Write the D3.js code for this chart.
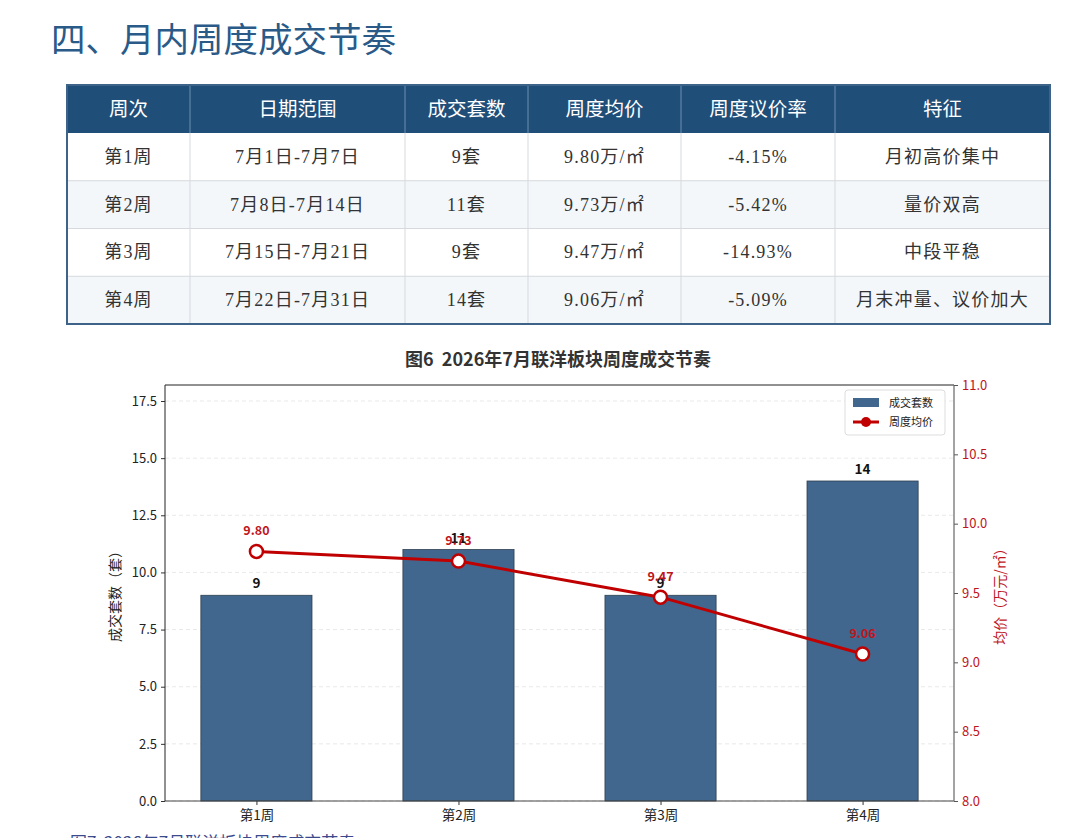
<!DOCTYPE html>
<html>
<head>
<meta charset="utf-8">
<script src="https://cdn.jsdelivr.net/npm/d3@7"></script>
<style>
  body { margin: 0; background: #fff; }
  svg { display: block; }
  text { white-space: pre; }
</style>
</head>
<body>
<svg id="page" width="1080" height="838"></svg>
<script>
// ---- data ----
var weeks = ["第1周", "第2周", "第3周", "第4周"];
var dateRanges = ["7月1日-7月7日", "7月8日-7月14日", "7月15日-7月21日", "7月22日-7月31日"];
var deals = [9, 11, 9, 14];
var avgPrice = [9.80, 9.73, 9.47, 9.06];
var discountRate = ["-4.15%", "-5.42%", "-14.93%", "-5.09%"];
var features = ["月初高价集中", "量价双高", "中段平稳", "月末冲量、议价加大"];
var tableHeaders = ["周次", "日期范围", "成交套数", "周度均价", "周度议价率", "特征"];
var leftTicks = [0, 2.5, 5, 7.5, 10, 12.5, 15, 17.5];
var rightTicks = [8.0, 8.5, 9.0, 9.5, 10.0, 10.5, 11.0];

var sans = "'Noto Sans CJK SC', 'Noto Sans', sans-serif";
var serif = "'Liberation Serif', 'Noto Sans CJK SC', serif";

var svg = d3.select("#page");

// ---- section title ----
svg.append("text")
    .attr("x", 51)
    .attr("y", 52)
    .attr("font-family", sans)
    .attr("font-size", 34.5)
    .attr("fill", "#2a5a88")
    .text("四、月内周度成交节奏");

// ---- table ----
var colEdges = [67, 190, 405, 528, 681, 835, 1050];
var tableTop = 85, headH = 48, rowH = 47.75;

var rows = weeks.map(function(w, i) {
    return [w, dateRanges[i], deals[i] + "套", avgPrice[i].toFixed(2) + "万/㎡", discountRate[i], features[i]];
});

var table = svg.append("g");

table.append("rect")
    .attr("x", colEdges[0]).attr("y", tableTop)
    .attr("width", colEdges[6] - colEdges[0]).attr("height", headH)
    .attr("fill", "#1f4e79");

rows.forEach(function(r, i) {
    table.append("rect")
        .attr("x", colEdges[0]).attr("y", tableTop + headH + i * rowH)
        .attr("width", colEdges[6] - colEdges[0]).attr("height", rowH)
        .attr("fill", i % 2 === 0 ? "#ffffff" : "#f4f7fa");
});

// grid lines in the body
for (var i = 1; i < rows.length; i++) {
    table.append("line")
        .attr("x1", colEdges[0]).attr("x2", colEdges[6])
        .attr("y1", tableTop + headH + i * rowH).attr("y2", tableTop + headH + i * rowH)
        .attr("stroke", "#d6d9dd").attr("stroke-width", 1);
}
colEdges.slice(1, -1).forEach(function(x) {
    table.append("line")
        .attr("x1", x).attr("x2", x)
        .attr("y1", tableTop + headH).attr("y2", tableTop + headH + rows.length * rowH)
        .attr("stroke", "#d6d9dd").attr("stroke-width", 1);
    table.append("line")
        .attr("x1", x).attr("x2", x)
        .attr("y1", tableTop).attr("y2", tableTop + headH)
        .attr("stroke", "#6f8fb0").attr("stroke-width", 1);
});

table.append("rect")
    .attr("x", colEdges[0]).attr("y", tableTop)
    .attr("width", colEdges[6] - colEdges[0]).attr("height", headH + rows.length * rowH)
    .attr("fill", "none")
    .attr("stroke", "#3d6389").attr("stroke-width", 2);

tableHeaders.forEach(function(h, j) {
    table.append("text")
        .attr("x", (colEdges[j] + colEdges[j + 1]) / 2)
        .attr("y", tableTop + headH / 2 + 7)
        .attr("text-anchor", "middle")
        .attr("font-family", sans)
        .attr("font-size", 19.5)
        .attr("fill", "#fff")
        .text(h);
});

rows.forEach(function(r, i) {
    r.forEach(function(cell, j) {
        table.append("text")
            .attr("x", (colEdges[j] + colEdges[j + 1]) / 2)
            .attr("y", tableTop + headH + i * rowH + rowH / 2 + 6)
            .attr("text-anchor", "middle")
            .attr("font-family", serif)
            .attr("font-size", 18)
            .attr("letter-spacing", 1.2)
            .attr("fill", "#333")
            .text(cell);
    });
});

// ---- chart ----
var plot = { left: 165, right: 954, top: 385, bottom: 801 };

svg.append("text")
    .attr("x", 558)
    .attr("y", 366)
    .attr("text-anchor", "middle")
    .attr("font-family", sans)
    .attr("font-size", 18)
    .attr("font-weight", "bold")
    .attr("fill", "#333")
    .text("图6  2026年7月联洋板块周度成交节奏");

var barW = 0.55;
var x = d3.scaleLinear()
    .domain([-0.4525, weeks.length - 1 + 0.4525])
    .range([plot.left, plot.right]);

var yLeft = d3.scaleLinear()
    .domain([0, d3.max(deals) * 1.3])
    .range([plot.bottom, plot.top]);

var yRight = d3.scaleLinear()
    .domain([8, 11])
    .range([plot.bottom, plot.top]);

var chart = svg.append("g");

// grid
chart.selectAll(".grid")
    .data(leftTicks)
    .enter()
    .append("line")
    .attr("x1", plot.left).attr("x2", plot.right)
    .attr("y1", d => yLeft(d)).attr("y2", d => yLeft(d))
    .attr("stroke", "#e3e3e3")
    .attr("stroke-dasharray", "4,3")
    .attr("stroke-width", 0.8);

// bars
chart.selectAll(".bar")
    .data(deals)
    .enter()
    .append("rect")
    .attr("x", (d, i) => x(i - barW / 2))
    .attr("y", d => yLeft(d))
    .attr("width", x(barW) - x(0))
    .attr("height", d => yLeft(0) - yLeft(d))
    .attr("fill", "#41678e")
    .attr("stroke", "#2d3f50")
    .attr("stroke-width", 0.8);

chart.selectAll(".barLabel")
    .data(deals)
    .enter()
    .append("text")
    .attr("x", (d, i) => x(i))
    .attr("y", d => yLeft(d) - 7)
    .attr("text-anchor", "middle")
    .attr("font-family", sans)
    .attr("font-size", 13.5)
    .attr("font-weight", "bold")
    .attr("fill", "#111")
    .text(d => d);

// axes
var leftAxis = d3.axisLeft(yLeft).tickValues(leftTicks).tickFormat(d3.format(".1f")).tickSize(4);
var rightAxis = d3.axisRight(yRight).tickValues(rightTicks).tickFormat(d3.format(".1f")).tickSize(4);
var bottomAxis = d3.axisBottom(x).tickValues(d3.range(weeks.length)).tickFormat(i => weeks[i]).tickSize(4);

var gl = chart.append("g")
    .attr("transform", `translate(${plot.left},0)`)
    .call(leftAxis);
gl.select(".domain").remove();
gl.selectAll("line").attr("stroke", "#333");
gl.selectAll("text").attr("font-family", sans).attr("font-size", 13).attr("fill", "#222").attr("dx", "-1");

var gr = chart.append("g")
    .attr("transform", `translate(${plot.right},0)`)
    .call(rightAxis);
gr.select(".domain").remove();
gr.selectAll("line").attr("stroke", "#555");
gr.selectAll("text").attr("font-family", sans).attr("font-size", 13).attr("fill", "#c0141c").attr("dx", "1");

var gb = chart.append("g")
    .attr("transform", `translate(0,${plot.bottom})`)
    .call(bottomAxis);
gb.select(".domain").remove();
gb.selectAll("line").attr("stroke", "#333");
gb.selectAll("text").attr("font-family", sans).attr("font-size", 13.5).attr("fill", "#222").attr("dy", "0.9em");

// spines
chart.append("line")
    .attr("x1", plot.left).attr("x2", plot.right)
    .attr("y1", plot.top).attr("y2", plot.top)
    .attr("stroke", "#222").attr("stroke-width", 1);
chart.append("line")
    .attr("x1", plot.left).attr("x2", plot.right)
    .attr("y1", plot.bottom).attr("y2", plot.bottom)
    .attr("stroke", "#444").attr("stroke-width", 1);
chart.append("line")
    .attr("x1", plot.left).attr("x2", plot.left)
    .attr("y1", plot.top).attr("y2", plot.bottom)
    .attr("stroke", "#222").attr("stroke-width", 1);
chart.append("line")
    .attr("x1", plot.right).attr("x2", plot.right)
    .attr("y1", plot.top).attr("y2", plot.bottom)
    .attr("stroke", "#666").attr("stroke-width", 1.2);

// axis titles
chart.append("text")
    .attr("transform", `translate(120,${(plot.top + plot.bottom) / 2}) rotate(-90)`)
    .attr("text-anchor", "middle")
    .attr("font-family", sans)
    .attr("font-size", 14)
    .attr("fill", "#222")
    .text("成交套数（套）");

chart.append("text")
    .attr("transform", `translate(1005,${(plot.top + plot.bottom) / 2}) rotate(-90)`)
    .attr("text-anchor", "middle")
    .attr("font-family", sans)
    .attr("font-size", 14)
    .attr("fill", "#c0141c")
    .text("均价（万元/㎡）");

// price line
var line = d3.line()
    .x((d, i) => x(i))
    .y(d => yRight(d));

chart.append("path")
    .datum(avgPrice)
    .attr("d", line)
    .attr("fill", "none")
    .attr("stroke", "#c00000")
    .attr("stroke-width", 3);

chart.selectAll(".pt")
    .data(avgPrice)
    .enter()
    .append("circle")
    .attr("cx", (d, i) => x(i))
    .attr("cy", d => yRight(d))
    .attr("r", 6.5)
    .attr("fill", "#fff")
    .attr("stroke", "#c00000")
    .attr("stroke-width", 2.5);

chart.selectAll(".ptLabel")
    .data(avgPrice)
    .enter()
    .append("text")
    .attr("x", (d, i) => x(i))
    .attr("y", d => yRight(d) - 16)
    .attr("text-anchor", "middle")
    .attr("font-family", sans)
    .attr("font-size", 12.5)
    .attr("font-weight", "bold")
    .attr("fill", "#c0141c")
    .text(d => d.toFixed(2));

// legend
var legend = chart.append("g").attr("transform", "translate(845,390)");
legend.append("rect")
    .attr("width", 100).attr("height", 45)
    .attr("rx", 3)
    .attr("fill", "#fff")
    .attr("fill-opacity", 0.9)
    .attr("stroke", "#ddd");
legend.append("rect")
    .attr("x", 8).attr("y", 8)
    .attr("width", 26).attr("height", 9)
    .attr("fill", "#41678e");
legend.append("text")
    .attr("x", 44).attr("y", 17)
    .attr("font-family", sans).attr("font-size", 11).attr("fill", "#222")
    .text("成交套数");
legend.append("line")
    .attr("x1", 8).attr("x2", 34)
    .attr("y1", 32).attr("y2", 32)
    .attr("stroke", "#c00000").attr("stroke-width", 3);
legend.append("circle")
    .attr("cx", 21).attr("cy", 32).attr("r", 5)
    .attr("fill", "#c00000");
legend.append("text")
    .attr("x", 44).attr("y", 36)
    .attr("font-family", sans).attr("font-size", 11).attr("fill", "#222")
    .text("周度均价");

// caption of the next figure, cut by the bottom edge
svg.append("text")
    .attr("x", 70)
    .attr("y", 849)
    .attr("font-family", sans)
    .attr("font-size", 17)
    .attr("fill", "#3b4a8c")
    .text("图7  2026年7月联洋板块周度成交节奏");
</script>
</body>
</html>
